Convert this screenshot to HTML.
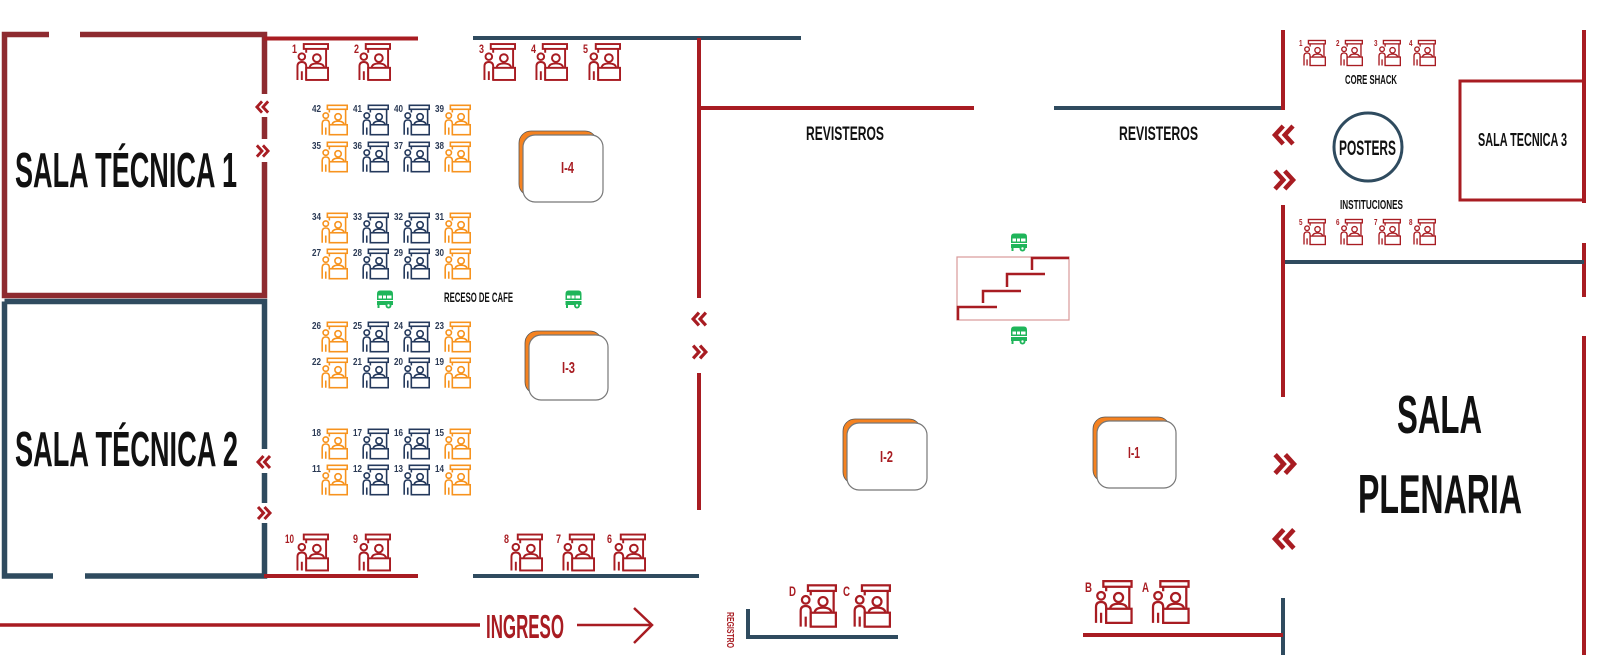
<!DOCTYPE html>
<html><head><meta charset="utf-8">
<style>html,body{margin:0;padding:0;background:#fff}svg{display:block}</style>
</head><body>
<svg width="1600" height="667" viewBox="0 0 1600 667" xmlns="http://www.w3.org/2000/svg">
<defs>
<symbol id="bt" viewBox="0 0 34 39" overflow="visible">
 <g fill="none" stroke="currentColor" stroke-width="2">
  <rect x="8" y="1" width="25" height="5" fill="#fff"/>
  <path d="M10.5 6 V10 M31 6 V26"/>
  <circle cx="6" cy="14" r="3.4"/>
  <path d="M1.5 38 V24 Q1.5 19.5 6 19.5 Q10.5 19.5 10.5 24 V38 M6 29 V38"/>
  <circle cx="21.5" cy="15.5" r="4"/>
  <path d="M14 25.5 Q14.5 21 21.5 21 Q28.5 21 29 25.5"/>
  <rect x="10.5" y="25.5" width="22.5" height="12.5" fill="#fff"/>
 </g>
</symbol>
<symbol id="cl" viewBox="0 0 16 16" overflow="visible">
 <path d="M7.5 2 L2 8 L7.5 14 M14 2 L8.5 8 L14 14" fill="none" stroke="#a81c22" stroke-width="3"/>
</symbol>
<symbol id="cr" viewBox="0 0 16 16" overflow="visible">
 <path d="M2 2 L7.5 8 L2 14 M8.5 2 L14 8 L8.5 14" fill="none" stroke="#a81c22" stroke-width="3"/>
</symbol>
<symbol id="cart" viewBox="0 0 18 19">
 <g fill="#1fb55a">
  <path d="M1 4 Q1 0.5 4 0.5 H14 Q17 0.5 17 4 Z"/>
  <rect x="1" y="4" width="16" height="6"/>
  <rect x="1" y="11" width="16" height="4"/>
  <rect x="1.5" y="15" width="2" height="3"/>
  <circle cx="12.5" cy="15.5" r="3"/>
 </g>
 <rect x="2.5" y="5.5" width="13" height="3" fill="#fff"/>
 <path d="M6.5 5.5 V8.5 M10.5 5.5 V8.5" stroke="#1fb55a" stroke-width="1"/>
 <circle cx="12.5" cy="15.5" r="1.2" fill="#fff"/>
</symbol>
</defs>

<!-- Sala 1 -->
<path d="M49 34.5 H4.5 V295.5 H264.5 V162 M264.5 139 V117 M264.5 94 V34.5 H80" fill="none" stroke="#8e2b30" stroke-width="5.5"/>
<!-- Sala 2 -->
<path d="M4.5 301.5 H264.5 V449 M264.5 473 V503 M264.5 523 V576 H85 M53 576 H4.5 V301.5" fill="none" stroke="#2f4b5f" stroke-width="5.5"/>

<!-- lines -->
<g fill="none" stroke-width="4">
 <path d="M264 38.5 H418" stroke="#a81c22"/>
 <path d="M473 38 H801" stroke="#2f4b5f"/>
 <path d="M264 576 H418" stroke="#a81c22"/>
 <path d="M473 576 H699" stroke="#2f4b5f"/>
 <path d="M699 38 V298 M699 373 V510" stroke="#a81c22"/>
 <path d="M699 108 H974" stroke="#a81c22"/>
 <path d="M1054 108 H1283" stroke="#2f4b5f"/>
 <path d="M1283 30 V110 M1283 205 V397" stroke="#a81c22"/>
 <path d="M1283 598 V655" stroke="#2f4b5f"/>
 <path d="M1083 635 H1283" stroke="#a81c22"/>
 <path d="M1584 30 V203 M1584 243 V297 M1584 336 V655" stroke="#a81c22"/>
 <path d="M1285 262 H1584" stroke="#2f4b5f"/>
 <path d="M748 609 V637 H898" stroke="#2f4b5f"/>
 <path d="M0 625 H480" stroke="#a81c22" stroke-width="3.5"/>
 <path d="M577 625 H651 M634 608 L652 625 L634 643" stroke="#a81c22" stroke-width="2.5"/>
</g>
<rect x="1460" y="81" width="124" height="119" fill="none" stroke="#a81c22" stroke-width="3"/>

<!-- chevrons -->
<use href="#cl" x="255" y="99" width="15" height="16"/>
<use href="#cr" x="255" y="143" width="15" height="16"/>
<use href="#cl" x="256" y="453" width="16" height="18"/>
<use href="#cr" x="256" y="505" width="16" height="16"/>
<use href="#cl" x="691" y="310" width="17" height="18"/>
<use href="#cr" x="691" y="343" width="17" height="18"/>
<use href="#cl" x="1272" y="122" width="24" height="26"/>
<use href="#cr" x="1272" y="167" width="24" height="26"/>
<use href="#cr" x="1272" y="450" width="25" height="28"/>
<use href="#cl" x="1272" y="525" width="25" height="28"/>

<!-- stairs -->
<rect x="957" y="257" width="112" height="63" fill="none" stroke="#d99a9a" stroke-width="1.2"/>
<path d="M958 320 V307 H997 M983 303 V291 H1021 M1007 287 V274 H1045 M1032 270 V258 H1069" fill="none" stroke="#a81c22" stroke-width="2.5"/>

<!-- carts -->
<use href="#cart" x="376" y="290" width="18" height="19"/>
<use href="#cart" x="564" y="290" width="19" height="19"/>
<use href="#cart" x="1010" y="233" width="18" height="19"/>
<use href="#cart" x="1010" y="326" width="18" height="19"/>

<!-- I boxes -->
<g>
 <rect x="519" y="131" width="78" height="65" rx="12" fill="#f58220" stroke="#555" stroke-width="0.8"/>
 <rect x="523" y="135" width="80" height="67" rx="12" fill="#fff" stroke="#777" stroke-width="1.2"/>
 <rect x="525" y="331" width="77" height="63" rx="12" fill="#f58220" stroke="#555" stroke-width="0.8"/>
 <rect x="529" y="335" width="79" height="65" rx="12" fill="#fff" stroke="#777" stroke-width="1.2"/>
 <rect x="843" y="419" width="78" height="65" rx="12" fill="#f58220" stroke="#555" stroke-width="0.8"/>
 <rect x="847" y="423" width="80" height="67" rx="12" fill="#fff" stroke="#777" stroke-width="1.2"/>
 <rect x="1093" y="417" width="77" height="65" rx="12" fill="#f58220" stroke="#555" stroke-width="0.8"/>
 <rect x="1097" y="421" width="79" height="67" rx="12" fill="#fff" stroke="#777" stroke-width="1.2"/>
</g>

<!-- Posters circle -->
<circle cx="1368" cy="147" r="34" fill="#fff" stroke="#2f4b5f" stroke-width="3"/>

<!-- booths top red -->
<g style="color:#a81c22">
 <use href="#bt" x="296" y="43" width="33" height="38"/>
 <use href="#bt" x="358" y="43" width="33" height="38"/>
 <use href="#bt" x="483" y="43" width="33" height="38"/>
 <use href="#bt" x="535" y="43" width="33" height="38"/>
 <use href="#bt" x="588" y="43" width="33" height="38"/>
 <use href="#bt" x="296" y="533" width="33" height="39"/>
 <use href="#bt" x="358" y="533" width="33" height="39"/>
 <use href="#bt" x="510" y="533" width="33" height="39"/>
 <use href="#bt" x="562" y="533" width="33" height="39"/>
 <use href="#bt" x="613" y="533" width="33" height="39"/>
 <use href="#bt" x="1303" y="39" width="23" height="28"/>
 <use href="#bt" x="1340" y="39" width="23" height="28"/>
 <use href="#bt" x="1378" y="39" width="23" height="28"/>
 <use href="#bt" x="1413" y="39" width="23" height="28"/>
 <use href="#bt" x="1303" y="218" width="23" height="28"/>
 <use href="#bt" x="1340" y="218" width="23" height="28"/>
 <use href="#bt" x="1378" y="218" width="23" height="28"/>
 <use href="#bt" x="1413" y="218" width="23" height="28"/>
 <use href="#bt" x="799" y="584" width="38" height="44"/>
 <use href="#bt" x="853" y="584" width="38" height="44"/>
 <use href="#bt" x="1094" y="580" width="39" height="44"/>
 <use href="#bt" x="1151" y="580" width="39" height="44"/>
</g>

<!-- grid booths -->
<g>
 <use href="#bt" x="321" y="104" width="27" height="32" style="color:#f7931e"/>
 <use href="#bt" x="362" y="104" width="27" height="32" style="color:#24395c"/>
 <use href="#bt" x="403" y="104" width="27" height="32" style="color:#24395c"/>
 <use href="#bt" x="444" y="104" width="27" height="32" style="color:#f7931e"/>
 <use href="#bt" x="321" y="141" width="27" height="32" style="color:#f7931e"/>
 <use href="#bt" x="362" y="141" width="27" height="32" style="color:#24395c"/>
 <use href="#bt" x="403" y="141" width="27" height="32" style="color:#24395c"/>
 <use href="#bt" x="444" y="141" width="27" height="32" style="color:#f7931e"/>
 <use href="#bt" x="321" y="212" width="27" height="32" style="color:#f7931e"/>
 <use href="#bt" x="362" y="212" width="27" height="32" style="color:#24395c"/>
 <use href="#bt" x="403" y="212" width="27" height="32" style="color:#24395c"/>
 <use href="#bt" x="444" y="212" width="27" height="32" style="color:#f7931e"/>
 <use href="#bt" x="321" y="248" width="27" height="32" style="color:#f7931e"/>
 <use href="#bt" x="362" y="248" width="27" height="32" style="color:#24395c"/>
 <use href="#bt" x="403" y="248" width="27" height="32" style="color:#24395c"/>
 <use href="#bt" x="444" y="248" width="27" height="32" style="color:#f7931e"/>
 <use href="#bt" x="321" y="321" width="27" height="32" style="color:#f7931e"/>
 <use href="#bt" x="362" y="321" width="27" height="32" style="color:#24395c"/>
 <use href="#bt" x="403" y="321" width="27" height="32" style="color:#24395c"/>
 <use href="#bt" x="444" y="321" width="27" height="32" style="color:#f7931e"/>
 <use href="#bt" x="321" y="357" width="27" height="32" style="color:#f7931e"/>
 <use href="#bt" x="362" y="357" width="27" height="32" style="color:#24395c"/>
 <use href="#bt" x="403" y="357" width="27" height="32" style="color:#24395c"/>
 <use href="#bt" x="444" y="357" width="27" height="32" style="color:#f7931e"/>
 <use href="#bt" x="321" y="428" width="27" height="32" style="color:#f7931e"/>
 <use href="#bt" x="362" y="428" width="27" height="32" style="color:#24395c"/>
 <use href="#bt" x="403" y="428" width="27" height="32" style="color:#24395c"/>
 <use href="#bt" x="444" y="428" width="27" height="32" style="color:#f7931e"/>
 <use href="#bt" x="321" y="464" width="27" height="32" style="color:#f7931e"/>
 <use href="#bt" x="362" y="464" width="27" height="32" style="color:#24395c"/>
 <use href="#bt" x="403" y="464" width="27" height="32" style="color:#24395c"/>
 <use href="#bt" x="444" y="464" width="27" height="32" style="color:#f7931e"/>
</g>

<!-- grid labels -->
<g font-family="'Liberation Sans', 'DejaVu Sans', sans-serif" font-weight="bold" font-size="10" fill="#2b3a55" lengthAdjust="spacingAndGlyphs">
 <text x="312" y="112" textLength="9" lengthAdjust="spacingAndGlyphs">42</text>
 <text x="353" y="112" textLength="9" lengthAdjust="spacingAndGlyphs">41</text>
 <text x="394" y="112" textLength="9" lengthAdjust="spacingAndGlyphs">40</text>
 <text x="435" y="112" textLength="9" lengthAdjust="spacingAndGlyphs">39</text>
 <text x="312" y="149" textLength="9" lengthAdjust="spacingAndGlyphs">35</text>
 <text x="353" y="149" textLength="9" lengthAdjust="spacingAndGlyphs">36</text>
 <text x="394" y="149" textLength="9" lengthAdjust="spacingAndGlyphs">37</text>
 <text x="435" y="149" textLength="9" lengthAdjust="spacingAndGlyphs">38</text>
 <text x="312" y="220" textLength="9" lengthAdjust="spacingAndGlyphs">34</text>
 <text x="353" y="220" textLength="9" lengthAdjust="spacingAndGlyphs">33</text>
 <text x="394" y="220" textLength="9" lengthAdjust="spacingAndGlyphs">32</text>
 <text x="435" y="220" textLength="9" lengthAdjust="spacingAndGlyphs">31</text>
 <text x="312" y="256" textLength="9" lengthAdjust="spacingAndGlyphs">27</text>
 <text x="353" y="256" textLength="9" lengthAdjust="spacingAndGlyphs">28</text>
 <text x="394" y="256" textLength="9" lengthAdjust="spacingAndGlyphs">29</text>
 <text x="435" y="256" textLength="9" lengthAdjust="spacingAndGlyphs">30</text>
 <text x="312" y="329" textLength="9" lengthAdjust="spacingAndGlyphs">26</text>
 <text x="353" y="329" textLength="9" lengthAdjust="spacingAndGlyphs">25</text>
 <text x="394" y="329" textLength="9" lengthAdjust="spacingAndGlyphs">24</text>
 <text x="435" y="329" textLength="9" lengthAdjust="spacingAndGlyphs">23</text>
 <text x="312" y="365" textLength="9" lengthAdjust="spacingAndGlyphs">22</text>
 <text x="353" y="365" textLength="9" lengthAdjust="spacingAndGlyphs">21</text>
 <text x="394" y="365" textLength="9" lengthAdjust="spacingAndGlyphs">20</text>
 <text x="435" y="365" textLength="9" lengthAdjust="spacingAndGlyphs">19</text>
 <text x="312" y="436" textLength="9" lengthAdjust="spacingAndGlyphs">18</text>
 <text x="353" y="436" textLength="9" lengthAdjust="spacingAndGlyphs">17</text>
 <text x="394" y="436" textLength="9" lengthAdjust="spacingAndGlyphs">16</text>
 <text x="435" y="436" textLength="9" lengthAdjust="spacingAndGlyphs">15</text>
 <text x="312" y="472" textLength="9" lengthAdjust="spacingAndGlyphs">11</text>
 <text x="353" y="472" textLength="9" lengthAdjust="spacingAndGlyphs">12</text>
 <text x="394" y="472" textLength="9" lengthAdjust="spacingAndGlyphs">13</text>
 <text x="435" y="472" textLength="9" lengthAdjust="spacingAndGlyphs">14</text>
</g>

<!-- red booth labels -->
<g font-family="'Liberation Sans', 'DejaVu Sans', sans-serif" font-weight="bold" fill="#a81c22">
 <text x="292" y="53" font-size="12" textLength="5" lengthAdjust="spacingAndGlyphs">1</text>
 <text x="354" y="53" font-size="12" textLength="5" lengthAdjust="spacingAndGlyphs">2</text>
 <text x="479" y="53" font-size="12" textLength="5" lengthAdjust="spacingAndGlyphs">3</text>
 <text x="531" y="53" font-size="12" textLength="5" lengthAdjust="spacingAndGlyphs">4</text>
 <text x="583" y="53" font-size="12" textLength="5" lengthAdjust="spacingAndGlyphs">5</text>
 <text x="285" y="543" font-size="12" textLength="9" lengthAdjust="spacingAndGlyphs">10</text>
 <text x="353" y="543" font-size="12" textLength="5" lengthAdjust="spacingAndGlyphs">9</text>
 <text x="504" y="543" font-size="12" textLength="5" lengthAdjust="spacingAndGlyphs">8</text>
 <text x="556" y="543" font-size="12" textLength="5" lengthAdjust="spacingAndGlyphs">7</text>
 <text x="607" y="543" font-size="12" textLength="5" lengthAdjust="spacingAndGlyphs">6</text>
 <text x="1299" y="46" font-size="8" textLength="3.5" lengthAdjust="spacingAndGlyphs">1</text>
 <text x="1336" y="46" font-size="8" textLength="3.5" lengthAdjust="spacingAndGlyphs">2</text>
 <text x="1374" y="46" font-size="8" textLength="3.5" lengthAdjust="spacingAndGlyphs">3</text>
 <text x="1409" y="46" font-size="8" textLength="3.5" lengthAdjust="spacingAndGlyphs">4</text>
 <text x="1299" y="225" font-size="8" textLength="3.5" lengthAdjust="spacingAndGlyphs">5</text>
 <text x="1336" y="225" font-size="8" textLength="3.5" lengthAdjust="spacingAndGlyphs">6</text>
 <text x="1374" y="225" font-size="8" textLength="3.5" lengthAdjust="spacingAndGlyphs">7</text>
 <text x="1409" y="225" font-size="8" textLength="3.5" lengthAdjust="spacingAndGlyphs">8</text>
 <text x="789" y="596" font-size="14" textLength="7" lengthAdjust="spacingAndGlyphs">D</text>
 <text x="843" y="596" font-size="14" textLength="7" lengthAdjust="spacingAndGlyphs">C</text>
 <text x="1085" y="592" font-size="14" textLength="7" lengthAdjust="spacingAndGlyphs">B</text>
 <text x="1142" y="592" font-size="14" textLength="7" lengthAdjust="spacingAndGlyphs">A</text>
 <!-- I labels -->
 <text x="561" y="173" font-size="16" textLength="13" lengthAdjust="spacingAndGlyphs">I-4</text>
 <text x="562" y="373" font-size="16" textLength="13" lengthAdjust="spacingAndGlyphs">I-3</text>
 <text x="880" y="462" font-size="16" textLength="13" lengthAdjust="spacingAndGlyphs">I-2</text>
 <text x="1128" y="458" font-size="16" textLength="12" lengthAdjust="spacingAndGlyphs">I-1</text>
 <text x="486" y="638" font-size="33" textLength="78" lengthAdjust="spacingAndGlyphs">INGRESO</text>
 <text transform="translate(727,612) rotate(90)" font-size="10" textLength="36" lengthAdjust="spacingAndGlyphs">REGISTRO</text>
</g>

<!-- black labels -->
<g font-family="'Liberation Sans', 'DejaVu Sans', sans-serif" font-weight="bold" fill="#111">
 <text x="15" y="187" font-size="49" textLength="222" lengthAdjust="spacingAndGlyphs">SALA TÉCNICA 1</text>
 <text x="15" y="466" font-size="49" textLength="223" lengthAdjust="spacingAndGlyphs">SALA TÉCNICA 2</text>
 <text x="444" y="302" font-size="14" textLength="69" lengthAdjust="spacingAndGlyphs">RECESO DE CAFE</text>
 <text x="806" y="140" font-size="19" textLength="78" lengthAdjust="spacingAndGlyphs">REVISTEROS</text>
 <text x="1119" y="140" font-size="19" textLength="79" lengthAdjust="spacingAndGlyphs">REVISTEROS</text>
 <text x="1345" y="84" font-size="13" textLength="52" lengthAdjust="spacingAndGlyphs">CORE SHACK</text>
 <text x="1340" y="209" font-size="12.5" textLength="63" lengthAdjust="spacingAndGlyphs">INSTITUCIONES</text>
 <text x="1339" y="155" font-size="21" textLength="57" lengthAdjust="spacingAndGlyphs">POSTERS</text>
 <text x="1478" y="146" font-size="18" textLength="89" lengthAdjust="spacingAndGlyphs">SALA TECNICA 3</text>
 <text x="1397" y="433" font-size="54" textLength="85" lengthAdjust="spacingAndGlyphs">SALA</text>
 <text x="1358" y="513" font-size="55" textLength="164" lengthAdjust="spacingAndGlyphs">PLENARIA</text>
</g>
</svg>
</body></html>
